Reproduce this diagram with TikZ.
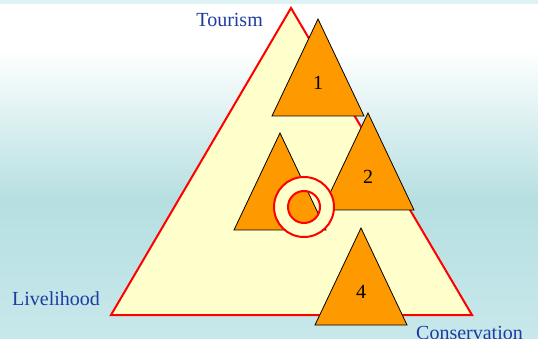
\documentclass[tikz,border=0pt]{standalone}
\usepackage{fontspec}
\setmainfont{Liberation Serif}
\usepackage{tikz}
\definecolor{skyc}{RGB}{182,223,225}
\definecolor{skyl}{RGB}{200,232,235}
\definecolor{paley}{RGB}{255,255,204}
\definecolor{orng}{RGB}{255,153,0}
\definecolor{lblue}{RGB}{30,60,160}
\tikzset{
  big/.style={draw=red, fill=paley, line width=2pt, line join=miter},
  tri/.style={draw=black, fill=orng, line width=0.8pt},   % the small triangles
  num/.style={font=\fontsize{20}{24}\selectfont, text=black},
  lbl/.style={font=\fontsize{20}{24}\selectfont, text=lblue, inner sep=0pt},
  ring/.style={draw=red, fill=paley, line width=2pt, even odd rule},
}

\begin{document}
\begin{tikzpicture}[x=1pt, y=-1pt]
  \useasboundingbox (0,0) rectangle (538,339);
  % background
  \fill[skyl!60!white] (0,0) rectangle (538,4);
  \fill[white] (0,4) rectangle (538,50);
  \fill[top color=white, bottom color=skyc] (0,50) rectangle (538,200);
  \fill[top color=skyc, bottom color=skyl] (0,200) rectangle (538,339);
  % the big triangle
  \coordinate (top) at (291,8);
  \coordinate (bl) at (111,315);
  \coordinate (br) at (472,315);
  \draw[big] (top) -- (bl) -- (br) -- cycle;
  \node[lbl, anchor=east] (tour) at (263,20) {Tourism};
  \node[lbl] (live) at (56,299) {Livelihood};
  \node[lbl, anchor=west] (cons) at (416,333) {Conservation};
  % small triangles, apex x/y and label
  \foreach \ax/\ay/\n in {318/19/1, 280/133/, 368/113/2, 361/228/4}{
    \draw[tri] (\ax,\ay) -- (\ax-46,\ay+97) -- (\ax+46,\ay+97) -- cycle;
    \node[num] (n\n) at (\ax,\ay+64) {\n};
  }
  % the ring
  \coordinate (c) at (304,207);
  \draw[ring] (c) circle[radius=30] (c) circle[radius=16];
\end{tikzpicture}
\end{document}
